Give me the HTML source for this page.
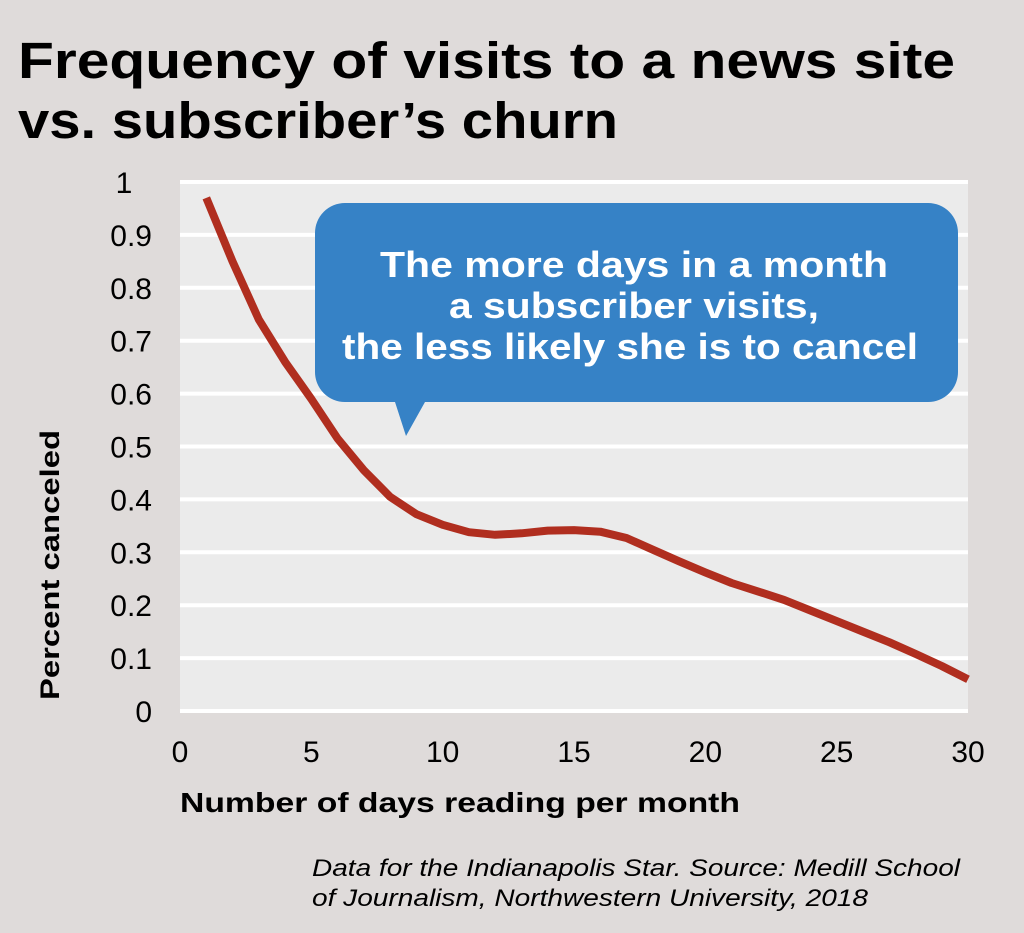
<!DOCTYPE html>
<html><head><meta charset="utf-8"><style>
body{margin:0;background:#dfdbda;}
svg{display:block;font-family:"Liberation Sans",Arial,sans-serif;}
</style></head><body>
<svg width="1024" height="933" viewBox="0 0 1024 933">
<rect width="1024" height="933" fill="#dfdbda"/>
<text x="18" y="78" font-size="51" font-weight="bold" fill="#000" textLength="937" lengthAdjust="spacingAndGlyphs">Frequency of visits to a news site</text>
<text x="18" y="138" font-size="51" font-weight="bold" fill="#000" textLength="600" lengthAdjust="spacingAndGlyphs">vs. subscriber’s churn</text>
<rect x="180" y="180" width="788" height="532" fill="#ebebeb"/>
<g id="grid"></g>
<g id="yticks" font-size="30" fill="#000"></g>
<g id="xticks" font-size="30" fill="#000"></g>
<path id="line" fill="none" stroke="#b02e1f" stroke-width="8" stroke-linejoin="round"/>
<g>
<path d="M345,203 H928 A30,30 0 0 1 958,233 V372 A30,30 0 0 1 928,402 H425 L406,436 L395,402 H345 A30,30 0 0 1 315,372 V233 A30,30 0 0 1 345,203 Z" fill="#3682c6"/>
<text x="634" y="277" font-size="36" font-weight="bold" fill="#fff" text-anchor="middle" textLength="508" lengthAdjust="spacingAndGlyphs">The more days in a month</text>
<text x="634" y="318" font-size="36" font-weight="bold" fill="#fff" text-anchor="middle" textLength="370" lengthAdjust="spacingAndGlyphs">a subscriber visits,</text>
<text x="630" y="359" font-size="36" font-weight="bold" fill="#fff" text-anchor="middle" textLength="576" lengthAdjust="spacingAndGlyphs">the less likely she is to cancel</text>
</g>
<text transform="translate(59,565) rotate(-90)" font-size="27" font-weight="bold" text-anchor="middle" textLength="270" lengthAdjust="spacingAndGlyphs">Percent canceled</text>
<text x="180" y="812" font-size="28" font-weight="bold" textLength="560" lengthAdjust="spacingAndGlyphs">Number of days reading per month</text>
<text x="312" y="876" font-size="24" font-style="italic" textLength="648" lengthAdjust="spacingAndGlyphs">Data for the Indianapolis Star. Source: Medill School</text>
<text x="312" y="906" font-size="24" font-style="italic" textLength="556" lengthAdjust="spacingAndGlyphs">of Journalism, Northwestern University, 2018</text>
</svg>
<script>
const days=[1,2,3,4,5,6,7,8,9,10,11,12,13,14,15,16,17,18,19,20,21,22,23,24,25,26,27,28,29,30];
const canceled=[0.97,0.85,0.74,0.66,0.59,0.515,0.455,0.405,0.372,0.352,0.338,0.333,0.336,0.341,0.342,0.339,0.327,0.305,0.283,0.262,0.242,0.226,0.21,0.19,0.17,0.15,0.13,0.108,0.085,0.06];
const yTicks=[0,0.1,0.2,0.3,0.4,0.5,0.6,0.7,0.8,0.9,1];
const xTicks=[0,5,10,15,20,25,30];
const NS="http://www.w3.org/2000/svg";
const xs=d=>180+d*(788/30);
const ys=v=>711-v*529;
const grid=document.getElementById('grid'),yt=document.getElementById('yticks'),xt=document.getElementById('xticks');
yTicks.forEach(t=>{
  const l=document.createElementNS(NS,'line');
  l.setAttribute('x1',180);l.setAttribute('x2',968);l.setAttribute('y1',ys(t));l.setAttribute('y2',ys(t));
  l.setAttribute('stroke','#fff');l.setAttribute('stroke-width','4');
  
  
  grid.appendChild(l);
  const tx=document.createElementNS(NS,'text');
  tx.setAttribute('x',t===1?124:152);tx.setAttribute('y',ys(t)+11);
  tx.setAttribute('text-anchor',t===1?'middle':'end');
  tx.textContent=String(t);
  
  
  yt.appendChild(tx);
});
xTicks.forEach(t=>{
  const tx=document.createElementNS(NS,'text');
  tx.setAttribute('x',xs(t));tx.setAttribute('y',762);tx.setAttribute('text-anchor','middle');
  tx.textContent=String(t);
  
  
  xt.appendChild(tx);
});
document.getElementById('line').setAttribute('d',days.map((d,i)=>(i?'L':'M')+xs(d).toFixed(1)+','+ys(canceled[i]).toFixed(1)).join(' '));
</script>
</body></html>
